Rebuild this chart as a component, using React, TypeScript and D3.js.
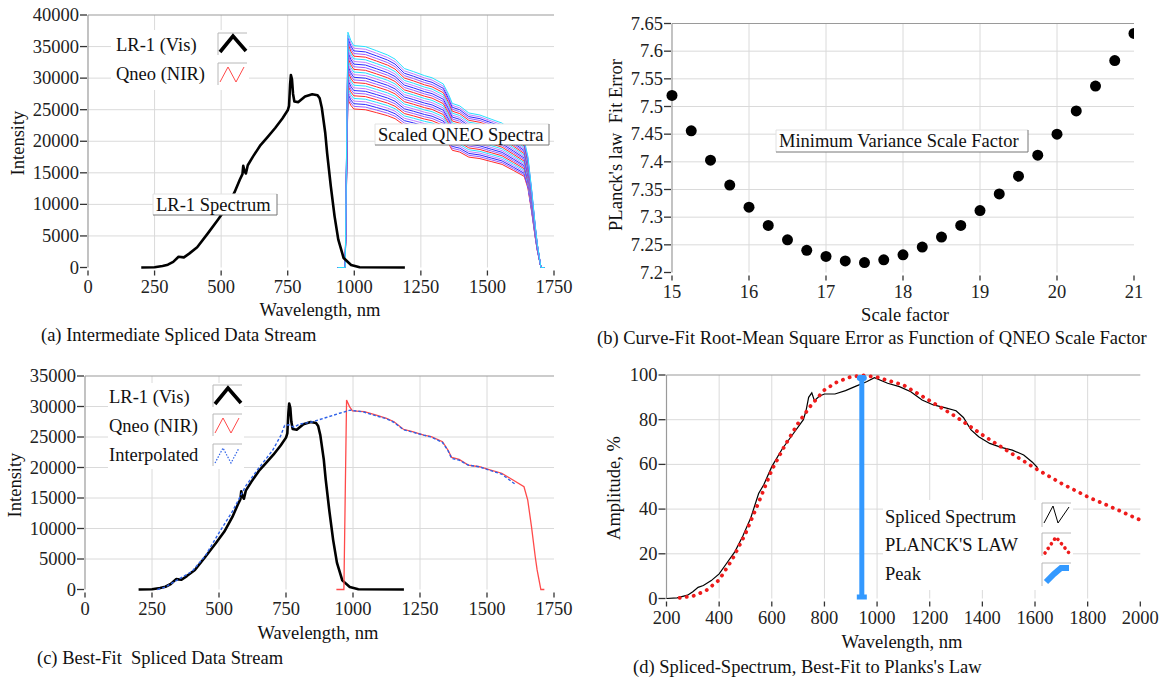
import React from "react";
import * as d3 from "d3";

// ---------------- DATA ----------------
// LR-1 (visible) spectrometer, raw intensity
const lr1Wl = [200, 250, 280, 300, 320, 340, 360, 380, 410, 450, 490, 520, 550, 570, 580, 583, 588, 593, 600, 620, 648, 675, 703, 730, 750, 755, 759, 762, 766, 770, 775, 790, 815, 842, 862, 870, 878, 891, 898, 912, 926, 940, 960, 988, 1020, 1190];
const lr1Int = [0, 50, 250, 450, 900, 1700, 1600, 2200, 3200, 5400, 7700, 9500, 11900, 13900, 14800, 16100, 15200, 14900, 16200, 17600, 19400, 20700, 22100, 23600, 24900, 25600, 29000, 30500, 29800, 27500, 26300, 26200, 27100, 27450, 27300, 26800, 25300, 21300, 18100, 12800, 8100, 4400, 1500, 400, 50, 0];

// Qneo (NIR) spectrometer, raw counts (before scaling)
const qneoWl = [938, 966, 976, 987, 998, 1042, 1084, 1125, 1153, 1188, 1222, 1264, 1292, 1334, 1354, 1368, 1396, 1430, 1472, 1514, 1555, 1597, 1638, 1652, 1666, 1680, 1687, 1701, 1714];
const qneoCounts = [0, 0, 1775, 1713, 1674, 1666, 1635, 1603, 1572, 1501, 1478, 1447, 1431, 1385, 1307, 1238, 1219, 1166, 1150, 1119, 1089, 1026, 963, 838, 589, 307, 183, 0, 0];

// QNEO scale factors and Planck fit error
const scaleFactors = [15, 15.25, 15.5, 15.75, 16, 16.25, 16.5, 16.75, 17, 17.25, 17.5, 17.75, 18, 18.25, 18.5, 18.75, 19, 19.25, 19.5, 19.75, 20, 20.25, 20.5, 20.75, 21];
const fitError = [7.52, 7.456, 7.403, 7.358, 7.318, 7.285, 7.259, 7.24, 7.229, 7.221, 7.218, 7.223, 7.232, 7.246, 7.264, 7.285, 7.312, 7.342, 7.374, 7.412, 7.45, 7.492, 7.537, 7.583, 7.632];
const bestScale = 17.5;

// Interpolated spliced stream
const interpWl = [270, 300, 350, 400, 450, 500, 550, 600, 650, 700, 730, 745, 760, 780, 800, 850, 900, 950, 990, 1040, 1084, 1125, 1153, 1188, 1222, 1264, 1292, 1334, 1354, 1368, 1396, 1430, 1472, 1514, 1555, 1604];
const interpInt = [0, 400, 1700, 3000, 5600, 9300, 12800, 17000, 20000, 22800, 25200, 26900, 27000, 26600, 27100, 27500, 28200, 28900, 29400, 29100, 28500, 28000, 27400, 26200, 25800, 25300, 25000, 24100, 22800, 21500, 21200, 20400, 20100, 19500, 18900, 17300];

// Spliced spectrum (normalised, %)
const splicedWl = [200, 240, 280, 300, 320, 340, 370, 400, 430, 460, 490, 520, 550, 570, 600, 640, 680, 720, 730, 740, 752, 762, 780, 800, 840, 880, 920, 960, 990, 1040, 1085, 1128, 1171, 1214, 1257, 1300, 1328, 1357, 1386, 1428, 1471, 1514, 1557, 1590, 1610];
const splicedAmp = [0, 0.3, 1.5, 3, 5, 5.8, 8, 11, 16, 21, 28, 36, 47, 51, 59, 67, 73.5, 80, 84, 90, 92, 88.5, 90.5, 91.5, 91.5, 93, 95, 97, 98.8, 96.3, 94.8, 92.5, 88.8, 86.6, 85.4, 84, 81, 75.4, 72.4, 69.4, 67.6, 66.4, 64.2, 61, 58.5];

// Planck's law best fit (%)
const planckWl = [250, 300, 350, 400, 450, 500, 550, 600, 650, 700, 750, 800, 850, 900, 950, 1000, 1100, 1200, 1300, 1400, 1500, 1600, 1700, 1800, 1900, 2000];
const planckAmp = [0.3, 1.1, 3.5, 8.3, 17.5, 29, 43, 57.5, 68.5, 78.4, 86.6, 93.3, 97, 99.2, 99.8, 99, 95.5, 88.5, 81.3, 73.2, 65.7, 58.3, 51.5, 45.5, 40.4, 35.1];
const peakWl = 942;

// ticks
const waveTicksAC = [0, 250, 500, 750, 1000, 1250, 1500, 1750];
const intTicksA = [0, 5000, 10000, 15000, 20000, 25000, 30000, 35000, 40000];
const intTicksC = [0, 5000, 10000, 15000, 20000, 25000, 30000, 35000];
const scaleTicks = [15, 16, 17, 18, 19, 20, 21];
const errTicks = [7.2, 7.25, 7.3, 7.35, 7.4, 7.45, 7.5, 7.55, 7.6, 7.65];
const waveTicksD = [200, 400, 600, 800, 1000, 1200, 1400, 1600, 1800, 2000];
const ampTicks = [0, 20, 40, 60, 80, 100];

// ---------------- STYLE ----------------
const FONT = "'Liberation Serif', 'Times New Roman', Times, serif";
const FS = 18.5;
const GRID = "#dadada";
const AXIS = "#9a9a9a";
const bundleColors = ["#ff2a2a", "#9b5cff", "#2a2aff", "#c07cff", "#28e0ff"];

type Sc = d3.ScaleLinear<number, number>;

function Frame({ x, y, xTicks, yTicks, yFmt }: { x: Sc; y: Sc; xTicks: number[]; yTicks: number[]; yFmt?: (v: number) => string }) {
  const [x0, x1] = x.range();
  const [y0, y1] = y.range();
  const f = yFmt || ((v: number) => String(v));
  return (
    <g fontFamily={FONT} fontSize={FS} fill="#222">
      {yTicks.slice(1, -1).map((t) => (
        <line key={"gy" + t} x1={x0} x2={x1} y1={y(t)} y2={y(t)} stroke={GRID} />
      ))}
      {xTicks.slice(1, -1).map((t) => (
        <line key={"gx" + t} x1={x(t)} x2={x(t)} y1={y1} y2={y0} stroke={GRID} />
      ))}
      <line x1={x0} x2={x1} y1={y1} y2={y1} stroke={AXIS} strokeWidth={1.2} />
      <line x1={x0} x2={x0} y1={y1} y2={y0} stroke={AXIS} strokeWidth={1.2} />
      {yTicks.map((t) => (
        <g key={"ty" + t}>
          <line x1={x0 - 8} x2={x0 - 1} y1={y(t)} y2={y(t)} stroke="#333" strokeWidth={1.3} />
          <text x={x0 - 9} y={y(t)} textAnchor="end" dominantBaseline="central">{f(t)}</text>
        </g>
      ))}
      {xTicks.map((t) => (
        <g key={"tx" + t}>
          <line x1={x(t)} x2={x(t)} y1={y0 + 3} y2={y0 + 8} stroke="#333" strokeWidth={1.3} />
          <text x={x(t)} y={y0 + 19} textAnchor="middle" dominantBaseline="central">{t}</text>
        </g>
      ))}
    </g>
  );
}

function Label({ x, y, text, rotate, anchor }: { x: number; y: number; text: string; rotate?: boolean; anchor?: string }) {
  return (
    <text
      transform={`translate(${x},${y})${rotate ? " rotate(-90)" : ""}`}
      textAnchor={anchor || "middle"}
      dominantBaseline="central"
      fontFamily={FONT}
      fontSize={FS}
      fill="#111"
      style={{ whiteSpace: "pre" }}
    >
      {text}
    </text>
  );
}

function NoteBox({ x, y, w, h, text }: { x: number; y: number; w: number; h: number; text: string }) {
  return (
    <g>
      <rect x={x} y={y} width={w} height={h} fill="#fff" />
      <line x1={x} x2={x + w} y1={y} y2={y} stroke="#e2e2e2" />
      <line x1={x} x2={x} y1={y} y2={y + h} stroke="#e2e2e2" />
      <line x1={x} x2={x + w} y1={y + h} y2={y + h} stroke="#777" />
      <line x1={x + w} x2={x + w} y1={y} y2={y + h} stroke="#777" />
      <text x={x + 3} y={y + h / 2} dominantBaseline="central" fontFamily={FONT} fontSize={FS} fill="#111">{text}</text>
    </g>
  );
}

function Swatch({ x, y, w, h, pts, stroke, width, dash, cap }: { x: number; y: number; w: number; h: number; pts: number[][]; stroke: string; width: number; dash?: string; cap?: string }) {
  return (
    <g>
      <line x1={x} x2={x + w} y1={y} y2={y} stroke="#b8b8b8" />
      <line x1={x} x2={x} y1={y} y2={y + h} stroke="#b8b8b8" />
      <polyline
        points={pts.map((p) => `${x + p[0]},${y + p[1]}`).join(" ")}
        fill="none"
        stroke={stroke}
        strokeWidth={width}
        strokeDasharray={dash}
        strokeLinecap={(cap as any) || "butt"}
        strokeLinejoin="miter"
      />
    </g>
  );
}

const caret = [[2, 19], [15, 3], [28, 18]];
const zig = [[2, 19], [10, 4], [18, 19], [26, 4]];

export default function App() {
  // scales
  const xA = d3.scaleLinear().domain([0, 1750]).range([88, 554]);
  const yA = d3.scaleLinear().domain([0, 40000]).range([267.5, 15]);
  const xB = d3.scaleLinear().domain([15, 21]).range([672, 1134]);
  const yB = d3.scaleLinear().domain([7.2, 7.65]).range([272.5, 23.5]);
  const xC = d3.scaleLinear().domain([0, 1750]).range([85, 554]);
  const yC = d3.scaleLinear().domain([0, 35000]).range([589.5, 376]);
  const xD = d3.scaleLinear().domain([200, 2000]).range([666.5, 1140.3]);
  const yD = d3.scaleLinear().domain([0, 100]).range([598.5, 375]);

  const lineOf = (xs: Sc, ys: Sc, wl: number[], v: number[], k = 1) =>
    d3.line<number>().x((_, i) => xs(wl[i])).y((d) => ys(d * k))(v) || "";

  const errFmt = (v: number) => String(+v.toFixed(2));

  return (
    <svg width={1167} height={679} style={{ position: "absolute", left: 0, top: 0, background: "#fff" }}>
      <defs>
        <clipPath id="clipB">
          <rect x={660} y={10} width={1134 - 660} height={280} />
        </clipPath>
      </defs>
      <rect width={1167} height={679} fill="#fff" />

      {/* ---------- (a) ---------- */}
      <Frame x={xA} y={yA} xTicks={waveTicksAC} yTicks={intTicksA} />
      {scaleFactors.map((k, i) => (
        <path key={"q" + k} d={lineOf(xA, yA, qneoWl, qneoCounts, k)} fill="none" stroke={bundleColors[i % bundleColors.length]} strokeWidth={1} />
      ))}
      <path d={lineOf(xA, yA, lr1Wl, lr1Int)} fill="none" stroke="#000" strokeWidth={2.6} strokeLinejoin="round" />
      <NoteBox x={153} y={194} w={124} h={21} text="LR-1 Spectrum" />
      <NoteBox x={375} y={124} w={174} h={21} text="Scaled QNEO Spectra" />
      <rect x={111} y={30} width={138} height={60} fill="#fff" />
      <Label x={116} y={45} text="LR-1 (Vis)" anchor="start" />
      <Label x={116} y={74} text="Qneo (NIR)" anchor="start" />
      <Swatch x={218} y={33} w={29} h={22} pts={caret} stroke="#000" width={3.6} />
      <Swatch x={218} y={63} w={29} h={22} pts={zig} stroke="#ff4a4a" width={1} />
      <Label x={18} y={143} text="Intensity" rotate />
      <Label x={320} y={310} text="Wavelength, nm" />
      <Label x={41} y={335} text="(a) Intermediate Spliced Data Stream" anchor="start" />

      {/* ---------- (b) ---------- */}
      <Frame x={xB} y={yB} xTicks={scaleTicks} yTicks={errTicks} yFmt={errFmt} />
      <g clipPath="url(#clipB)">
        {scaleFactors.map((k, i) => (
          <circle key={"p" + k} cx={xB(k)} cy={yB(fitError[i])} r={5.5} fill="#000" />
        ))}
      </g>
      <NoteBox x={776} y={130} w={252} h={22} text="Minimum Variance Scale Factor" />
      <Label x={616} y={145} text="PLanck's law  Fit Error" rotate />
      <Label x={905} y={315} text="Scale factor" />
      <Label x={597} y={338} text="(b) Curve-Fit Root-Mean Square Error as Function of QNEO Scale Factor" anchor="start" />

      {/* ---------- (c) ---------- */}
      <Frame x={xC} y={yC} xTicks={waveTicksAC} yTicks={intTicksC} />
      <path d={lineOf(xC, yC, lr1Wl, lr1Int)} fill="none" stroke="#000" strokeWidth={2.6} strokeLinejoin="round" />
      <path d={lineOf(xC, yC, qneoWl, qneoCounts, bestScale)} fill="none" stroke="#ff4a4a" strokeWidth={1.3} />
      <path d={lineOf(xC, yC, interpWl, interpInt)} fill="none" stroke="#2f62e8" strokeWidth={1.4} strokeDasharray="3,2" />
      <rect x={108} y={383} width={136} height={86} fill="#fff" />
      <Label x={109} y={397} text="LR-1 (Vis)" anchor="start" />
      <Label x={109} y={426} text="Qneo (NIR)" anchor="start" />
      <Label x={109} y={455} text="Interpolated" anchor="start" />
      <Swatch x={213} y={385} w={29} h={22} pts={caret} stroke="#000" width={3.6} />
      <Swatch x={213} y={414} w={29} h={22} pts={zig} stroke="#ff4a4a" width={1} />
      <Swatch x={213} y={444} w={29} h={22} pts={zig} stroke="#2f62e8" width={1.2} dash="1.5,1.5" />
      <Label x={15} y={485} text="Intensity" rotate />
      <Label x={318} y={633} text="Wavelength, nm" />
      <Label x={37} y={658} text="(c) Best-Fit  Spliced Data Stream" anchor="start" />

      {/* ---------- (d) ---------- */}
      <Frame x={xD} y={yD} xTicks={waveTicksD} yTicks={ampTicks} />
      <path d={lineOf(xD, yD, splicedWl, splicedAmp)} fill="none" stroke="#000" strokeWidth={1.2} />
      <path d={lineOf(xD, yD, planckWl, planckAmp)} fill="none" stroke="#ee1b1b" strokeWidth={3.8} strokeDasharray="0.1,7" strokeLinecap="round" />
      <line x1={xD(peakWl)} x2={xD(peakWl)} y1={yD(0)} y2={yD(100)} stroke="#3399ff" strokeWidth={5} />
      <rect x={xD(peakWl) - 5} y={yD(100)} width={10} height={6} rx={3} fill="#3399ff" />
      <rect x={xD(peakWl) - 5} y={yD(0) - 4} width={10} height={5} fill="#3399ff" />
      <rect x={883} y={500} width={190} height={90} fill="#fff" />
      <Label x={885} y={517} text="Spliced Spectrum" anchor="start" />
      <Label x={885} y={545} text="PLANCK'S LAW" anchor="start" />
      <Label x={885} y={574} text="Peak" anchor="start" />
      <Swatch x={1042} y={503} w={29} h={24} pts={[[2, 20], [11, 3], [16, 20], [27, 4]]} stroke="#000" width={1} />
      <Swatch x={1042} y={533} w={29} h={23} pts={[[3, 20], [14, 4], [27, 20]]} stroke="#ee1b1b" width={3.6} dash="0.1,5.5" cap="round" />
      <Swatch x={1042} y={563} w={29} h={23} pts={[[4, 19], [12, 11], [19, 5], [27, 5]]} stroke="#3399ff" width={6} />
      <Label x={614} y={488} text="Amplitude, %" rotate />
      <Label x={902} y={642} text="Wavelength, nm" />
      <Label x={633} y={667} text="(d) Spliced-Spectrum, Best-Fit to Planks's Law" anchor="start" />
    </svg>
  );
}
